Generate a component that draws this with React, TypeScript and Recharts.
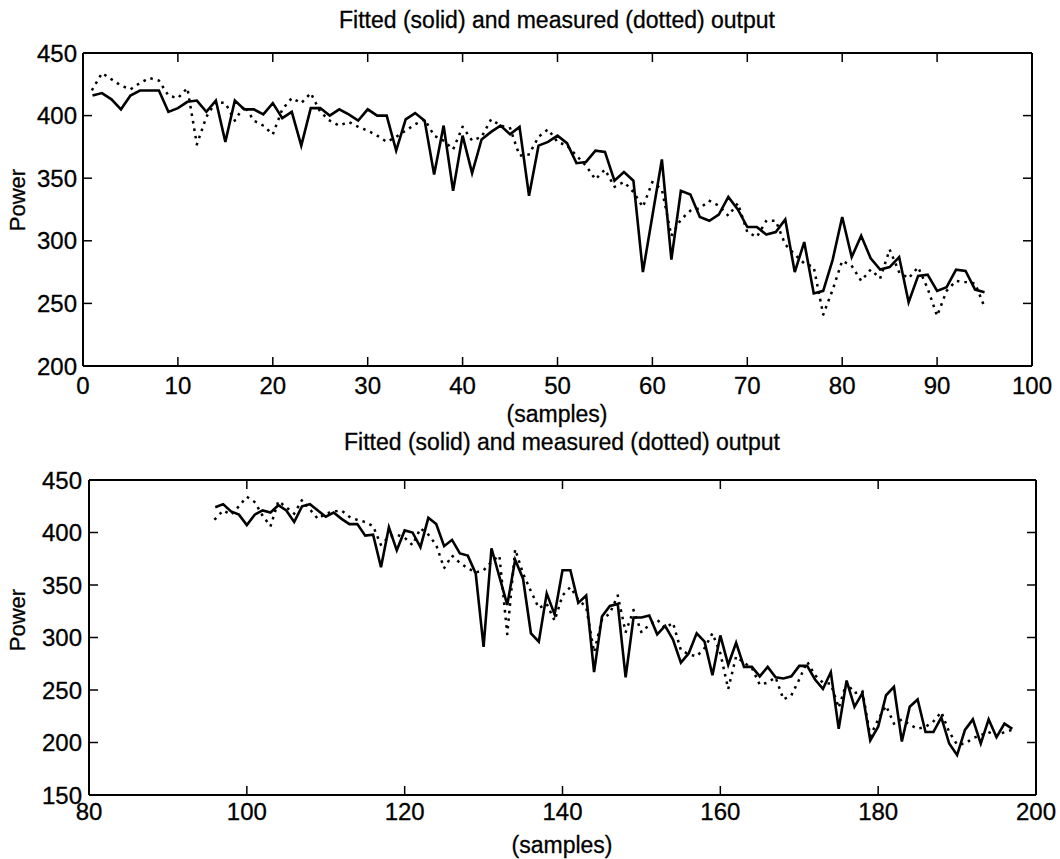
import { Line, LineChart, XAxis, YAxis } from 'recharts'

// top panel: samples 1..95
const topStart = 1
const topFitted = [
  416, 418, 413, 405, 416, 420, 420, 420, 403, 406, 411, 412, 403, 412, 379, 412, 405, 405, 401, 410,
  398, 403, 376, 406, 406, 400, 405, 401, 396, 405, 400, 400, 372, 397, 402, 396, 353, 392, 340, 384,
  354, 381, 387, 392, 385, 391, 336, 376, 379, 384, 378, 362, 363, 372, 371, 348, 355, 348, 275, 320,
  365, 285, 340, 337, 319, 316, 321, 335, 325, 311, 311, 305, 307, 317, 275, 299, 258, 260, 285, 319,
  287, 304, 286, 277, 279, 287, 251, 272, 273, 260, 263, 277, 276, 261, 259,
]
const topMeasured = [
  421, 434, 429, 424, 421, 426, 430, 428, 416, 414, 422, 377, 399, 411, 410, 396, 408, 396, 392, 385,
  405, 414, 410, 418, 403, 396, 392, 395, 391, 388, 384, 379, 383, 388, 393, 397, 384, 380, 373, 391,
  380, 383, 397, 392, 390, 368, 369, 383, 389, 379, 376, 368, 360, 349, 357, 343, 347, 339, 327, 347,
  341, 304, 317, 324, 326, 332, 328, 320, 330, 307, 303, 316, 316, 297, 289, 282, 279, 241, 261, 284,
  280, 268, 277, 270, 293, 275, 270, 279, 262, 240, 260, 268, 267, 266, 247,
]

// bottom panel: samples 96..197
const bottomStart = 96
const bottomFitted = [
  424, 427, 420, 417, 407, 417, 421, 419, 426, 421, 410, 425, 427, 421, 415, 419, 413, 408, 408, 397,
  398, 367, 405, 383, 402, 400, 386, 414, 408, 387, 393, 380, 378, 361, 291, 385, 358, 331, 374, 356,
  304, 296, 342, 322, 364, 364, 333, 340, 267, 320, 330, 332, 262, 319, 319, 321, 303, 311, 298, 276,
  285, 304, 296, 264, 302, 274, 295, 272, 272, 263, 272, 262, 261, 263, 273, 273, 260, 251, 267, 213,
  259, 234, 247, 202, 215, 245, 253, 201, 234, 241, 210, 210, 224, 199, 188, 212, 222, 199, 222, 205,
  218, 213,
]
const bottomMeasured = [
  413, 421, 417, 425, 434, 429, 416, 406, 430, 424, 418, 431, 422, 413, 418, 420, 421, 415, 412, 410,
  406, 388, 396, 398, 395, 388, 404, 398, 388, 366, 378, 371, 366, 362, 364, 372, 378, 303, 384, 361,
  344, 328, 332, 316, 340, 348, 336, 329, 286, 317, 323, 340, 305, 326, 305, 312, 317, 309, 314, 288,
  284, 282, 290, 304, 285, 251, 282, 276, 271, 255, 257, 262, 241, 245, 260, 277, 264, 257, 256, 233,
  257, 247, 249, 206, 222, 235, 218, 222, 217, 213, 215, 220, 229, 210, 198, 199, 204, 207, 210, 206,
  210, 212,
]

const topXTicks = [0, 10, 20, 30, 40, 50, 60, 70, 80, 90, 100]
const topYTicks = [200, 250, 300, 350, 400, 450]
const bottomXTicks = [80, 100, 120, 140, 160, 180, 200]
const bottomYTicks = [150, 200, 250, 300, 350, 400, 450]

const title = 'Fitted (solid) and measured (dotted) output'

const FONT = '"Liberation Sans", Arial, Helvetica, sans-serif'
const tickStyle = { fontSize: 24, fill: '#000', stroke: '#000', strokeWidth: 0.3, fontFamily: FONT }
const blank = () => ''

function buildRows(start: number, fitted: number[], measured: number[]) {
  return fitted.map((v, i) => ({ sample: start + i, fitted: v, measured: measured[i] }))
}

interface PanelProps {
  data: { sample: number; fitted: number; measured: number }[]
  xDomain: [number, number]
  yDomain: [number, number]
  xTicks: number[]
  yTicks: number[]
  height: number
  margin: { top: number; right: number; left: number; bottom: number }
  leftWidth: number
  bottomHeight: number
  xGap: number
  yGap: number
}

function Panel({ data, xDomain, yDomain, xTicks, yTicks, height, margin, leftWidth, bottomHeight, xGap, yGap }: PanelProps) {
  const axisLine = { stroke: '#000', strokeWidth: 2 }
  const tickLine = { stroke: '#000', strokeWidth: 1.5 }
  return (
    <LineChart width={1060} height={height} data={data} margin={margin}>
      <XAxis
        xAxisId="b"
        dataKey="sample"
        type="number"
        domain={xDomain}
        ticks={xTicks}
        allowDataOverflow
        height={bottomHeight}
        axisLine={axisLine}
        tickLine={tickLine}
        tickSize={-9}
        tickMargin={xGap}
        tick={tickStyle}
        interval={0}
      />
      <XAxis
        xAxisId="t"
        orientation="top"
        dataKey="sample"
        type="number"
        domain={xDomain}
        ticks={xTicks}
        allowDataOverflow
        height={1}
        axisLine={axisLine}
        tickLine={tickLine}
        tickSize={-9}
        tickFormatter={blank}
        interval={0}
      />
      <YAxis
        yAxisId="l"
        type="number"
        domain={yDomain}
        ticks={yTicks}
        allowDataOverflow
        width={leftWidth}
        axisLine={axisLine}
        tickLine={tickLine}
        tickSize={-9}
        tickMargin={yGap}
        tick={tickStyle}
        interval={0}
      />
      <YAxis
        yAxisId="r"
        orientation="right"
        type="number"
        domain={yDomain}
        ticks={yTicks}
        allowDataOverflow
        width={1}
        axisLine={axisLine}
        tickLine={tickLine}
        tickSize={-9}
        tickFormatter={blank}
        interval={0}
      />
      <Line
        xAxisId="b"
        yAxisId="l"
        dataKey="measured"
        stroke="#000"
        strokeWidth={2.5}
        strokeDasharray="0.1 7.5"
        strokeLinecap="square"
        dot={false}
        isAnimationActive={false}
      />
      <Line
        xAxisId="b"
        yAxisId="l"
        dataKey="fitted"
        stroke="#000"
        strokeWidth={2.6}
        dot={false}
        isAnimationActive={false}
      />
    </LineChart>
  )
}

const textBase: React.CSSProperties = {
  position: 'absolute',
  fontFamily: FONT,
  color: '#000',
  whiteSpace: 'nowrap',
  transform: 'translate(-50%, -50%)',
  lineHeight: 1,
  WebkitTextStroke: '0.3px #000',
}

export default function App() {
  const topData = buildRows(topStart, topFitted, topMeasured)
  const bottomData = buildRows(bottomStart, bottomFitted, bottomMeasured)

  return (
    <div style={{ position: 'absolute', left: 0, top: 0, width: 1060, height: 859, background: '#fff' }}>
      <div style={{ position: 'absolute', left: 0, top: 0 }}>
        <Panel
          data={topData}
          xDomain={[0, 100]}
          yDomain={[200, 450]}
          xTicks={topXTicks}
          yTicks={topYTicks}
          height={430}
          margin={{ top: 52, right: 27, left: 0, bottom: 0 }}
          leftWidth={83}
          bottomHeight={64}
          xGap={20}
          yGap={15}
        />
      </div>
      <div style={{ position: 'absolute', left: 0, top: 430 }}>
        <Panel
          data={bottomData}
          xDomain={[80, 200]}
          yDomain={[150, 450]}
          xTicks={bottomXTicks}
          yTicks={bottomYTicks}
          height={429}
          margin={{ top: 49, right: 23, left: 0, bottom: 0 }}
          leftWidth={89}
          bottomHeight={64}
          xGap={17}
          yGap={16}
        />
      </div>
      <div style={{ ...textBase, left: 557, top: 20, fontSize: 23 }}>{title}</div>
      <div style={{ ...textBase, left: 557, top: 414, fontSize: 23 }}>(samples)</div>
      <div style={{ ...textBase, left: 18, top: 200, fontSize: 22, transform: 'translate(-50%, -50%) rotate(-90deg)' }}>
        Power
      </div>
      <div style={{ ...textBase, left: 562, top: 442, fontSize: 23 }}>{title}</div>
      <div style={{ ...textBase, left: 562, top: 845, fontSize: 23 }}>(samples)</div>
      <div style={{ ...textBase, left: 18, top: 620, fontSize: 22, transform: 'translate(-50%, -50%) rotate(-90deg)' }}>
        Power
      </div>
    </div>
  )
}
